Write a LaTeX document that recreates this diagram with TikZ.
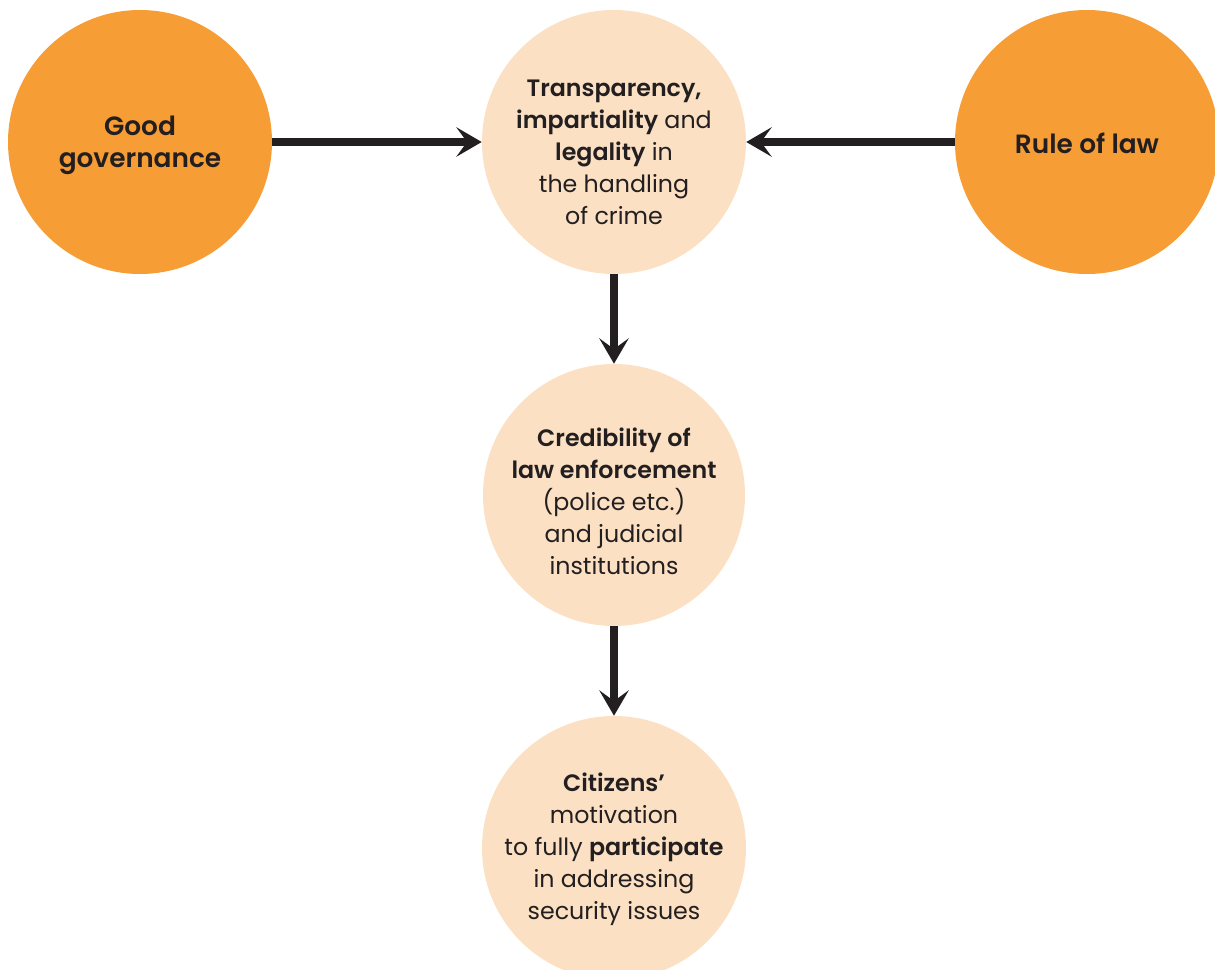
\documentclass[tikz,border=0pt]{standalone}
\usepackage{fontspec}
\setmainfont{Poppins}[BoldFont={Poppins SemiBold}]
\usetikzlibrary{arrows.meta}
\definecolor{darkorange}{HTML}{F79D35}
\definecolor{peach}{HTML}{FBE0C3}
\definecolor{ink}{HTML}{231F20}
\begin{document}
\begin{tikzpicture}[x=0.75pt,y=-0.75pt,
  bigdot/.style={circle,fill=darkorange,draw=none,minimum size=264*0.75pt,inner sep=0pt},
  softdot/.style={circle,fill=peach,draw=none,minimum size=262*0.75pt,inner sep=0pt},
  label/.style={text=ink,align=center,font=\fontsize{17.8pt}{24pt}\selectfont},
  biglabel/.style={text=ink,align=center,font=\fontsize{19.8pt}{24pt}\selectfont},
  conn/.style={draw=ink,line width=6pt,-{Stealth[length=19pt,width=22pt,inset=8pt]}}]
\useasboundingbox (0,0) rectangle (1215,970);
\begin{scope}
\clip (0,0) rectangle (1215,970);
\node[bigdot] (gg) at (140,142) {};
\node[softdot,minimum size=264*0.75pt] (tr) at (614,142) {};
\node[bigdot] (rl) at (1087,142) {};
\node[softdot] (cr) at (614,495) {};
\node[softdot,minimum size=264*0.75pt] (ci) at (614,848) {};
\end{scope}
\node[biglabel] (ggt) at (140,145) {\textbf{Good}\\\textbf{governance}};
\node[label] (trt) at (614,152) {\textbf{Transparency,}\\\textbf{impartiality} and\\\textbf{legality} in\\the handling\\of crime};
\node[biglabel] (rlt) at (1087,143) {\textbf{Rule of law}};
\node[label] (crt) at (614,501) {\textbf{Credibility of}\\\textbf{law enforcement}\\(police etc.)\\and judicial\\institutions};
\node[label] (cit) at (614,849) {\textbf{Citizens’}\\motivation\\to fully \textbf{participate}\\in addressing\\security issues};
\draw[conn] (gg.east) -- (tr.west);
\draw[conn] (rl.west) -- (tr.east);
\draw[conn] (tr.south) -- (cr.north);
\draw[conn] (cr.south) -- (ci.north);
\end{tikzpicture}
\end{document}
